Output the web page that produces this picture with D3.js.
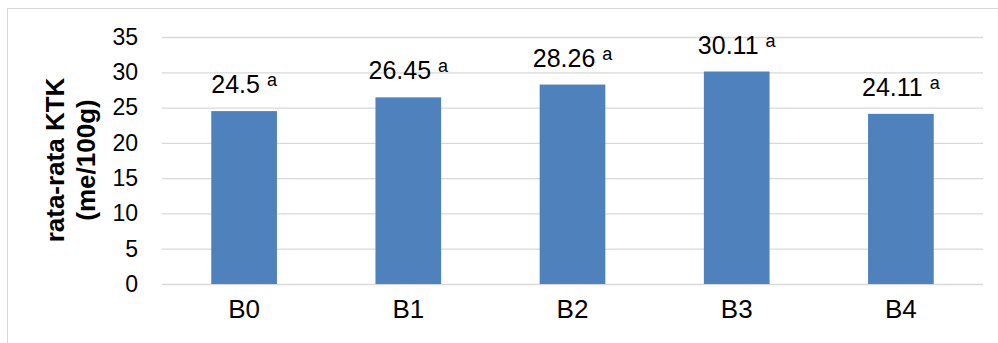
<!DOCTYPE html>
<html>
<head>
<meta charset="utf-8">
<script src="https://cdn.jsdelivr.net/npm/d3@7"></script>
<style>
  body { margin: 0; background: #fff; }
  svg { display: block; font-family: "Liberation Sans", Arial, sans-serif; }
</style>
</head>
<body>
<div id="chart"></div>
<script>
// data
var categories = ["B0", "B1", "B2", "B3", "B4"];
var values = [24.5, 26.45, 28.26, 30.11, 24.11];
var letters = ["a", "a", "a", "a", "a"];
var yTicks = [0, 5, 10, 15, 20, 25, 30, 35];

var w = 998, h = 343;
var plotLeft = 162, plotRight = 983, plotTop = 37, plotBottom = 284;

var svg = d3.select("#chart").append("svg")
    .attr("width", w)
    .attr("height", h);

// chart frame
svg.append("rect")
    .attr("x", 7.5).attr("y", 8.5)
    .attr("width", 1000).attr("height", 400)
    .attr("fill", "none")
    .attr("stroke", "#d9d9d9");

var x = d3.scaleBand()
    .domain(categories)
    .range([plotLeft, plotRight])
    .paddingInner(0.6)
    .paddingOuter(0.3);

var y = d3.scaleLinear()
    .domain([0, 35])
    .range([plotBottom, plotTop]);

// gridlines + tick labels
var yAxis = svg.append("g")
    .attr("transform", "translate(" + plotLeft + ",0)")
    .call(d3.axisLeft(y).tickValues(yTicks).tickSize(-(plotRight - plotLeft)).tickPadding(24));
yAxis.select(".domain").remove();
yAxis.selectAll(".tick line")
    .attr("stroke", "#d9d9d9")
    .attr("stroke-width", 1.3);
yAxis.selectAll(".tick text")
    .attr("fill", "#000")
    .style("font-size", "23px")
    .attr("font-family", null);

// bars
svg.selectAll("rect.bar")
    .data(values)
    .enter().append("rect")
    .attr("class", "bar")
    .attr("x", function(d, i) { return x(categories[i]); })
    .attr("y", function(d) { return y(d); })
    .attr("width", x.bandwidth())
    .attr("height", function(d) { return y(0) - y(d); })
    .attr("fill", "#4f81bd");

// category labels
var xAxis = svg.append("g")
    .attr("transform", "translate(0," + plotBottom + ")")
    .call(d3.axisBottom(x).tickSize(0).tickPadding(16));
xAxis.select(".domain").remove();
xAxis.selectAll(".tick text")
    .attr("fill", "#000")
    .style("font-size", "26px")
    .attr("font-family", null);

// value labels with letter notation
var labels = svg.selectAll("text.val")
    .data(values)
    .enter().append("text")
    .attr("class", "val")
    .attr("x", function(d, i) { return x(categories[i]) + x.bandwidth() / 2; })
    .attr("y", function(d) { return y(d) - 18; })
    .attr("text-anchor", "middle")
    .style("font-size", "25px");
labels.append("tspan")
    .text(function(d) { return d + " "; });
labels.append("tspan")
    .attr("dy", -7)
    .style("font-size", "18px")
    .text(function(d, i) { return letters[i]; });

// y axis title
var title = svg.append("text")
    .attr("transform", "translate(64,160) rotate(-90)")
    .attr("text-anchor", "middle")
    .style("font-size", "26px")
    .style("font-weight", "bold");
title.append("tspan").attr("x", 0).text("rata-rata KTK");
title.append("tspan").attr("x", 0).attr("dy", 31).text("(me/100g)");
</script>
</body>
</html>
